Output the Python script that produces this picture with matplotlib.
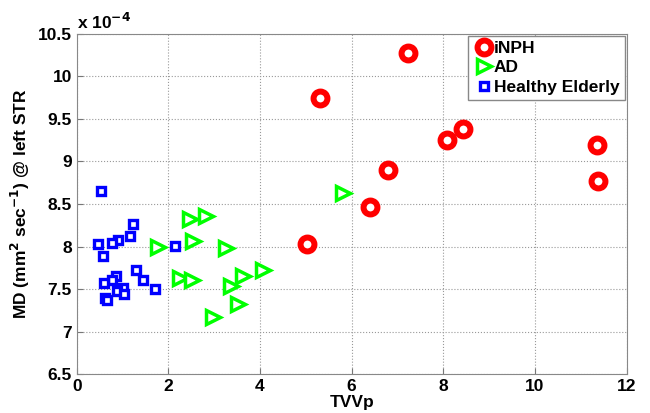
import numpy as np
import matplotlib.pyplot as plt

plt.rcParams['font.family'] = ['Liberation Sans', 'DejaVu Sans']
plt.rcParams['font.weight'] = 'bold'

# iNPH
inph_x = [5.02, 5.31, 6.40, 6.79, 7.24, 8.09, 8.44, 11.35, 11.38]
inph_y = [8.03, 9.75, 8.46, 8.90, 10.28, 9.25, 9.38, 9.19, 8.77]

# AD
ad_x = [1.78, 2.25, 2.47, 2.51, 2.53, 2.82, 2.98, 3.25, 3.36, 3.52, 3.62, 4.07, 5.82]
ad_y = [8.00, 7.63, 8.32, 7.61, 8.07, 8.36, 7.17, 7.98, 7.54, 7.32, 7.65, 7.72, 8.63]

# Healthy Elderly
he_x = [0.52, 1.22, 1.16, 0.90, 0.76, 0.47, 0.58, 2.14, 1.29, 1.45,
        0.85, 0.76, 0.60, 1.01, 0.87, 1.03, 1.70, 0.61, 0.67]
he_y = [8.65, 8.27, 8.12, 8.08, 8.04, 8.03, 7.89, 8.01, 7.73, 7.61,
        7.65, 7.61, 7.57, 7.51, 7.48, 7.44, 7.50, 7.40, 7.37]

fig = plt.figure(figsize=(6.5, 4.13), dpi=100)
ax = fig.add_axes([0.118, 0.094, 0.846, 0.824])

ax.plot(inph_x, inph_y, 'o', ms=10, mew=4.3, mec='red', mfc='white',
        label='iNPH', zorder=3)
ax.plot(ad_x, ad_y, '>', ms=10, mew=2.5, mec=(0, 1, 0), mfc='white',
        label='AD', zorder=3)
ax.plot(he_x, he_y, 's', ms=5.3, mew=2.4, mec='blue', mfc='white',
        label='Healthy Elderly', zorder=3)

ax.set_xlim(0, 12)
ax.set_ylim(6.5, 10.5)
ax.set_xticks(np.arange(0, 13, 2))
ax.set_yticks(np.arange(6.5, 10.6, 0.5))
ax.set_yticklabels(['6.5', '7', '7.5', '8', '8.5', '9', '9.5', '10', '10.5'])
ax.tick_params(direction='in', labelsize=12.5, length=4, color='#777777')
ax.grid(True, linestyle=':', color='#999999', linewidth=0.8)
for s in ax.spines.values():
    s.set_color('#888888')

ax.set_xlabel('TVVp', fontsize=12.5, fontweight='bold', labelpad=1)
ax.set_ylabel('MD (mm$^\\mathbf{2}$ sec$^\\mathbf{-1}$) @ left STR',
              fontsize=12.5, fontweight='bold')
ax.text(0.0, 1.005, 'x 10$^\\mathbf{-4}$', transform=ax.transAxes,
        fontsize=12.5, fontweight='bold', va='bottom')

leg = ax.legend(loc='upper right', fontsize=12.5, handletextpad=0.0,
                handlelength=1.2, borderpad=0.3, labelspacing=0.25,
                fancybox=False, framealpha=1, borderaxespad=0.1)
leg.get_frame().set_edgecolor('#888888')

plt.savefig('out.png', dpi=100)
